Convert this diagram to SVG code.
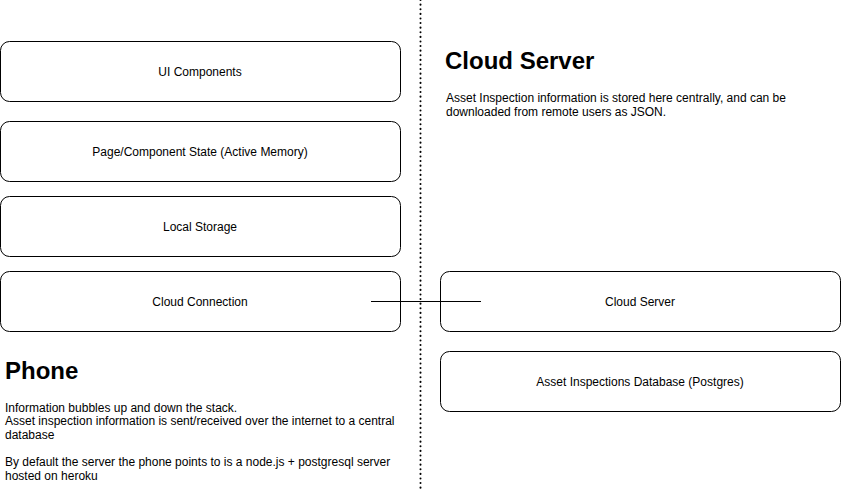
<svg xmlns="http://www.w3.org/2000/svg" width="851" height="502" viewBox="0 0 851 502">
<style>
.box{fill:#fff;stroke:#000;stroke-width:1}
.lbl{font-family:"Liberation Sans",Arial,sans-serif;font-size:12px;fill:#000;text-anchor:middle}
.h{font-family:"Liberation Sans",Arial,sans-serif;font-size:24px;font-weight:bold;fill:#000}
.p{font-family:"Liberation Sans",Arial,sans-serif;font-size:12px;fill:#000}
</style>
<rect width="851" height="502" fill="#fff"/>
<line x1="420.5" y1="0" x2="420.5" y2="492" stroke="#000" stroke-width="2" stroke-dasharray="0.1 4.5" stroke-linecap="round"/>
<g id="ui"><rect class="box" x="0.5" y="41.5" width="400" height="60" rx="9"/><text class="lbl" x="200" y="76">UI Components</text></g>
<g id="state"><rect class="box" x="0.5" y="121.5" width="400" height="60" rx="9"/><text class="lbl" x="200" y="156">Page/Component State (Active Memory)</text></g>
<g id="local"><rect class="box" x="0.5" y="196.5" width="400" height="60" rx="9"/><text class="lbl" x="200" y="231">Local Storage</text></g>
<g id="conn"><rect class="box" x="0.5" y="271.5" width="400" height="60" rx="9"/><text class="lbl" x="200" y="306">Cloud Connection</text></g>
<g id="server"><rect class="box" x="440.5" y="271.5" width="400" height="60" rx="9"/><text class="lbl" x="640" y="306">Cloud Server</text></g>
<g id="db"><rect class="box" x="440.5" y="351.5" width="400" height="60" rx="9"/><text class="lbl" x="640" y="386">Asset Inspections Database (Postgres)</text></g>
<g id="connectors"><line x1="371" y1="301.5" x2="481" y2="301.5" stroke="#000" stroke-width="1"/></g>
<g id="cloud-text">
<text class="h" x="445" y="69">Cloud Server</text>
<text class="p" x="446" y="102">Asset Inspection information is stored here centrally, and can be</text>
<text class="p" x="446" y="116">downloaded from remote users as JSON.</text>
</g>
<g id="phone-text">
<text class="h" x="5" y="379">Phone</text>
<text class="p" x="5" y="412">Information bubbles up and down the stack.</text>
<text class="p" x="5" y="425">Asset inspection information is sent/received over the internet to a central</text>
<text class="p" x="5" y="439">database</text>
<text class="p" x="5" y="466">By default the server the phone points to is a node.js + postgresql server</text>
<text class="p" x="5" y="480">hosted on heroku</text>
</g>
</svg>
